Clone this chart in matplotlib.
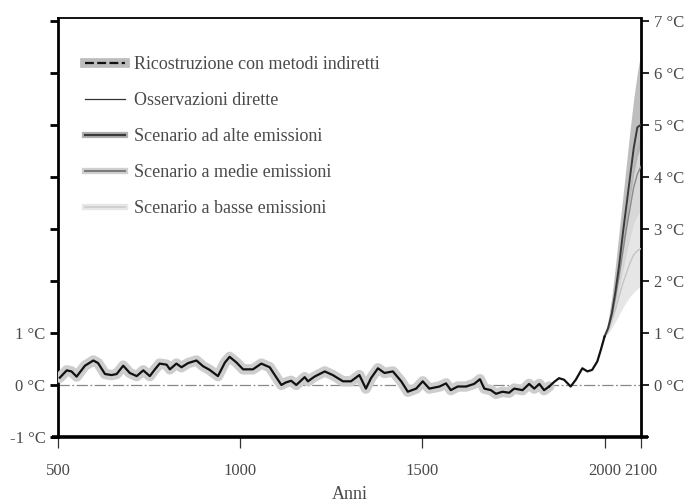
import matplotlib
matplotlib.use("Agg")
import matplotlib.pyplot as plt
from matplotlib.lines import Line2D
from matplotlib.legend_handler import HandlerTuple

# ---------------- data ----------------
recon_years = [505, 524, 537, 551, 574, 597, 610, 629, 647, 661, 679, 697, 716, 734, 752,
               766, 779, 798, 807, 825, 839, 857, 880, 898, 916, 939, 958, 971, 990, 1008,
               1035, 1058, 1081, 1095, 1113, 1126, 1140, 1154, 1177, 1186, 1204, 1232, 1254,
               1282, 1304, 1327, 1345, 1359, 1378, 1396, 1419, 1442, 1460, 1483, 1501, 1519,
               1547, 1565, 1578, 1597, 1620, 1642, 1658, 1670, 1688, 1702, 1720, 1738, 1752,
               1775, 1793, 1807, 1821, 1834, 1848]
recon_vals = [0.14, 0.28, 0.26, 0.16, 0.37, 0.47, 0.42, 0.21, 0.19, 0.21, 0.37, 0.23, 0.17,
              0.28, 0.17, 0.30, 0.41, 0.39, 0.30, 0.41, 0.34, 0.42, 0.47, 0.36, 0.29, 0.17,
              0.43, 0.54, 0.43, 0.30, 0.30, 0.41, 0.34, 0.19, 0.00, 0.05, 0.08, 0.00, 0.15,
              0.07, 0.16, 0.26, 0.19, 0.07, 0.07, 0.19, -0.07, 0.13, 0.32, 0.23, 0.26, 0.07,
              -0.13, -0.07, 0.07, -0.07, -0.03, 0.03, -0.10, -0.03, -0.03, 0.02, 0.11, -0.07,
              -0.10, -0.17, -0.13, -0.15, -0.07, -0.10, 0.02, -0.07, 0.02, -0.10, -0.03]

obs_years = [1848, 1862, 1875, 1889, 1907, 1921, 1939, 1953, 1966, 1980, 1990, 2000]
obs_vals = [-0.03, 0.06, 0.13, 0.10, -0.03, 0.10, 0.32, 0.26, 0.29, 0.45, 0.68, 0.93]

scen_years = [2000, 2010, 2020, 2030, 2040, 2050, 2060, 2070, 2080, 2090, 2100]
high_mean = [0.93, 1.10, 1.38, 1.80, 2.30, 2.90, 3.45, 4.00, 4.55, 4.95, 5.00]
high_low = [0.93, 1.05, 1.30, 1.65, 2.10, 2.60, 3.10, 3.60, 4.05, 4.40, 4.60]
high_up = [0.93, 1.25, 1.70, 2.30, 2.95, 3.60, 4.25, 4.90, 5.50, 6.00, 6.40]
med_mean = [0.93, 1.08, 1.32, 1.70, 2.10, 2.55, 3.00, 3.40, 3.80, 4.05, 4.20]
med_low = [0.93, 1.02, 1.20, 1.50, 1.85, 2.20, 2.55, 2.85, 3.10, 3.25, 3.35]
med_up = [0.93, 1.12, 1.42, 1.85, 2.30, 2.80, 3.30, 3.80, 4.25, 4.60, 4.80]
low_mean = [0.93, 1.05, 1.25, 1.45, 1.70, 1.95, 2.15, 2.35, 2.50, 2.58, 2.62]
low_low = [0.93, 1.00, 1.10, 1.22, 1.35, 1.48, 1.60, 1.70, 1.78, 1.85, 1.90]
low_up = [0.93, 1.10, 1.35, 1.65, 2.00, 2.35, 2.65, 2.90, 3.10, 3.25, 3.35]

xticks = [500, 1000, 1500, 2000, 2100]
yticks = [-1, 0, 1, 2, 3, 4, 5, 6, 7]
left_labels = ["-1 °C", "0 °C", "1 °C", "", "", "", "", "", ""]
right_labels = ["", "0 °C", "1 °C", "2 °C", "3 °C", "4 °C", "5 °C", "6 °C", "7 °C"]

legend_labels = ["Ricostruzione con metodi indiretti", "Osservazioni dirette",
                 "Scenario ad alte emissioni", "Scenario a medie emissioni",
                 "Scenario a basse emissioni"]

# ---------------- style ----------------
FONT = "Liberation Serif"
TXT = "#4a4a4a"
plt.rcParams['font.family'] = [FONT, 'DejaVu Serif']

fig = plt.figure(figsize=(6.88, 5.04), dpi=100)
ax = fig.add_axes([58/688, 1-437/504, (641-58)/688, (437-18)/504])
ax.set_xlim(500, 2100)
ax.set_ylim(-1, 7.05)

# zero reference line
ax.axhline(0, color="#888888", lw=0.9, ls=(0, (9, 2, 1.5, 2)), zorder=1)

# scenario bands
ax.fill_between(scen_years, low_low, low_up, color="#e6e6e6", lw=0, zorder=2)
ax.fill_between(scen_years, med_low, med_up, color="#cfcfcf", lw=0, alpha=0.8, zorder=2)
ax.fill_between(scen_years, high_low, high_up, color="#a9a9a9", lw=0, alpha=0.75, zorder=2)
ax.plot(scen_years, low_mean, color="#c4c4c4", lw=1.0, zorder=3)
ax.plot(scen_years, med_mean, color="#8a8a8a", lw=1.0, zorder=3)
ax.plot(scen_years, high_mean, color="#3a3a3a", lw=1.4, zorder=3)

# reconstruction with halo
ax.plot(recon_years, recon_vals, color="#cdcdcd", lw=7.5, solid_capstyle="round",
        solid_joinstyle="round", zorder=3)
ax.plot(recon_years, recon_vals, color="#111111", lw=1.6, zorder=4)
# observations
ax.plot(obs_years, obs_vals, color="#111111", lw=1.6, zorder=4)

# spines
for s in ["left", "right"]:
    ax.spines[s].set_linewidth(2.0)
ax.spines["top"].set_linewidth(1.3)
ax.spines["bottom"].set_visible(False)
ax.plot([-0.01, 1.012], [0, 0], transform=ax.transAxes, color="black", lw=2.6,
        clip_on=False, zorder=6, solid_capstyle="butt")

# ticks
ax.set_xticks(xticks)
ax.set_xticklabels([str(t) for t in xticks])
ax.tick_params(axis="x", direction="out", length=8, width=0.9, color="#333333",
               labelsize=12, labelcolor=TXT, pad=11)
ax.set_yticks(yticks)
ax.set_yticklabels(left_labels)
ax.tick_params(axis="y", direction="out", length=6, width=2.0, color="black",
               labelsize=12, labelcolor=TXT, pad=3)
ax2 = ax.twinx()
ax2.set_ylim(ax.get_ylim())
ax2.set_yticks(yticks)
ax2.set_yticklabels(right_labels)
ax2.tick_params(axis="y", direction="out", length=6, width=1.2, color="black",
                labelsize=12, labelcolor=TXT, pad=3)
for s in ax2.spines.values():
    s.set_visible(False)

fig.text(350/688, 1/504, "Anni", fontsize=13, color=TXT, ha="center", va="bottom")

# legend
h_recon = (Line2D([], [], color="#bdbdbd", lw=7),
           Line2D([], [], color="#111111", lw=1.6, ls=(0, (4, 1.5))))
h_obs = Line2D([], [], color="#333333", lw=0.9)
h_high = (Line2D([], [], color="#b0b0b0", lw=4.5),
          Line2D([], [], color="#3a3a3a", lw=1.6))
h_med = (Line2D([], [], color="#cfcfcf", lw=4.5),
         Line2D([], [], color="#7a7a7a", lw=1.4))
h_low = (Line2D([], [], color="#e6e6e6", lw=4.5),
         Line2D([], [], color="#cccccc", lw=1.2))
leg = ax.legend([h_recon, h_obs, h_high, h_med, h_low], legend_labels,
                handler_map={tuple: HandlerTuple(ndivide=1, pad=0)},
                loc="upper left", bbox_to_anchor=(0.046, 0.909), frameon=False,
                fontsize=13, handlelength=2.2, handletextpad=0.55, labelspacing=1.05,
                labelcolor=TXT, borderaxespad=0, borderpad=0)

fig.savefig("out.png", dpi=100)
